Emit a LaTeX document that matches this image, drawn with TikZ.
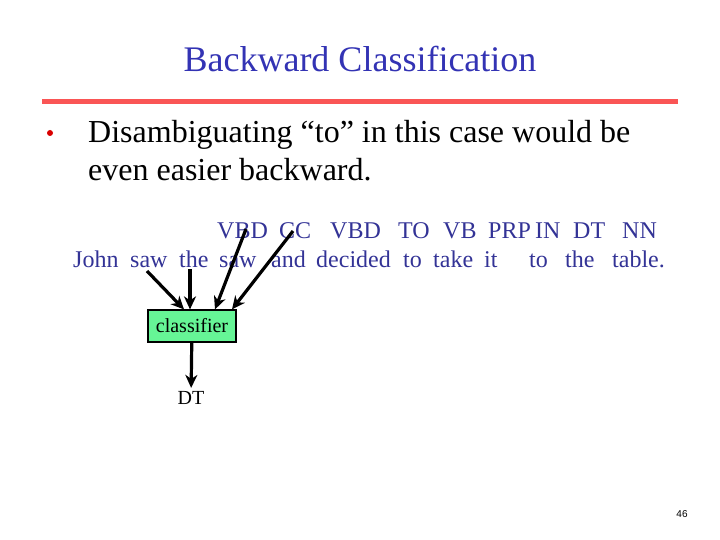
\documentclass[tikz,border=0pt]{standalone}
\usepackage{fontspec}
\setmainfont{Liberation Serif}
\setsansfont{Liberation Sans}
\usepackage{xcolor}
\usetikzlibrary{arrows.meta}

\definecolor{titleblue}{RGB}{51,51,180}
\definecolor{wordblue}{RGB}{51,51,150}
\definecolor{rulered}{RGB}{250,85,85}
\definecolor{boxgreen}{RGB}{102,245,150}

\tikzset{
	word/.style = {anchor = base west, inner sep = 0pt, text = wordblue, font = \fontsize{24}{24}\selectfont},
	feed/.style = {-{Stealth[length = 13pt, width = 12pt, inset = 4pt]}, line width = 3.2pt},
}

\begin{document}
\begin{tikzpicture}[x = 1pt, y = -1pt]
			\useasboundingbox (0,0) rectangle (720,540);
			
			\node (title) [text = titleblue, font = \fontsize{36}{36}\selectfont] at (360,59) {Backward Classification};
			\fill [rulered] (42,99) rectangle (678,104);
			
			\fill [red!85!black] (50,133) circle (3);
			\node (point) [anchor = base west, inner sep = 0pt, align = left, font = \fontsize{32}{38}\selectfont] at (88,181)
				{Disambiguating ``to'' in this case would be\\even easier backward.};
			
			% tags
			\node (tVBDa) [word] at (217,238) {VBD};
			\node (tCC) [word] at (279,238) {CC};
			\node (tVBDb) [word] at (330,238) {VBD};
			\node (tTO) [word] at (398,238) {TO};
			\node (tVB) [word] at (443,238) {VB};
			\node (tPRP) [word] at (488,238) {PRP};
			\node (tIN) [word] at (535,238) {IN};
			\node (tDT) [word] at (573,238) {DT};
			\node (tNN) [word] at (622,238) {NN};
			
			% words
			\node (wJohn) [word] at (73,267) {John};
			\node (wSawa) [word] at (130,267) {saw};
			\node (wThea) [word] at (179,267) {the};
			\node (wSawb) [word] at (219,267) {saw};
			\node (wAnd) [word] at (271,267) {and};
			\node (wDecided) [word] at (316,267) {decided};
			\node (wToa) [word] at (403,267) {to};
			\node (wTake) [word] at (433,267) {take};
			\node (wIt) [word] at (484,267) {it};
			\node (wTob) [word] at (529,267) {to};
			\node (wTheb) [word] at (565,267) {the};
			\node (wTable) [word] at (612,267) {table.};
			
			\node (classifier) [draw, line width = 1.2pt, fill = boxgreen, minimum width = 88pt, minimum height = 32pt, inner sep = 0pt,
				font = \fontsize{20}{20}\selectfont] at (192,326) {classifier};
			\node (out) [font = \fontsize{20}{20}\selectfont] at (191,398) {DT};
			
			\coordinate (fromSaw) at (147,271);
			\coordinate (fromThe) at (190,269);
			\coordinate (fromVBD) at (246,229);
			\coordinate (fromCC) at (293,231);
			
			\begin{scope}[feed]
				\draw (fromSaw) -- (classifier.north -| 184,0);
				\draw (fromThe) -- (classifier.north -| 190,0);
				\draw (fromVBD) -- (classifier.north -| 215,0);
				\draw (fromCC) -- (classifier.north -| 232,0);
				\draw (classifier) -- (out);
			\end{scope}
			
			\node (page) [font = \sffamily\fontsize{10}{10}\selectfont] at (682,514) {46};
		\end{tikzpicture}
\end{document}
